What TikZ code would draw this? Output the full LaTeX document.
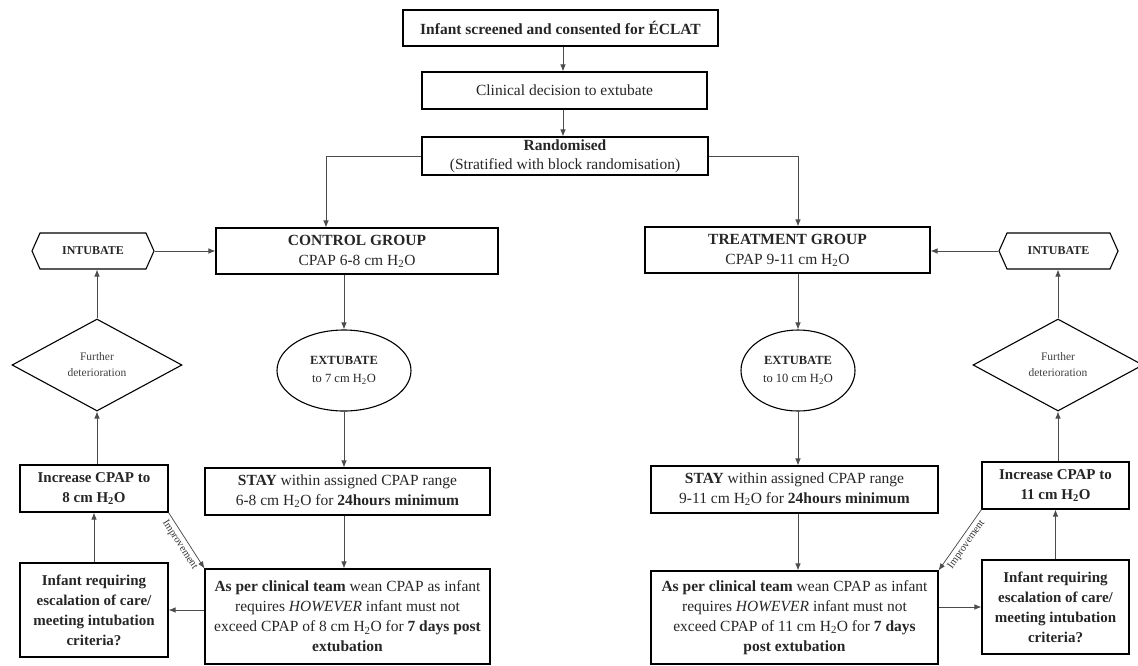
\documentclass[tikz,border=0pt]{standalone}
\usepackage{fontspec}
\setmainfont{Liberation Serif}
\usetikzlibrary{arrows.meta,shapes.geometric,shapes.symbols,calc}
\newcommand{\HtwoO}{H\textsubscript{2}O}
\begin{document}
\begin{tikzpicture}[x=1pt,y=-1pt,
  box/.style={draw, line width=1.1pt, align=center, inner sep=1pt, font=\fontsize{15.5}{20}\selectfont, text=black!85},
  bbox/.style={box, font=\bfseries\fontsize{15}{20}\selectfont},
  arr/.style={draw=black!70, line width=0.75pt, -{Latex[length=7pt,width=5.5pt]}},
  hexa/.style={draw, line width=1.1pt, signal, signal to=west and east, signal pointer angle=132, inner sep=1pt, font=\bfseries\fontsize{12}{14}\selectfont, text=black!85},
  dia/.style={draw, line width=1.1pt, diamond, inner sep=0pt, align=center, font=\fontsize{11.5}{16}\selectfont, text=black!75},
  ell/.style={draw, line width=1.1pt, ellipse, inner sep=0pt, align=center, font=\fontsize{12.5}{18}\selectfont, text=black!85},
  lbl/.style={sloped, below, font=\fontsize{10.5}{11}\selectfont, inner sep=3pt, text=black!80}
]
\useasboundingbox (0,0) rectangle (1138,665);

\node[box, minimum width=315pt, minimum height=36pt, font=\bfseries\fontsize{15.5}{20}\selectfont] (top) at (560.5,28) {Infant screened and consented for ÉCLAT};
\node[box, minimum width=285pt, minimum height=37pt] (clin) at (564.5,90.5) {Clinical decision to extubate};
\node[box, minimum width=286pt, minimum height=38pt, font=\fontsize{15.5}{19}\selectfont] (rand) at (565,156) {\textbf{Randomised}\\(Stratified with block randomisation)};

\node[box, minimum width=282pt, minimum height=46pt] (ctrl) at (357,251) {\textbf{CONTROL GROUP}\\CPAP 6-8 cm \HtwoO};
\node[box, minimum width=285pt, minimum height=46pt] (treat) at (787.5,250) {\textbf{TREATMENT GROUP}\\CPAP 9-11 cm \HtwoO};

\node[hexa, minimum width=122pt, minimum height=36pt] (intL) at (93,251) {INTUBATE};
\node[hexa, minimum width=119pt, minimum height=36pt] (intR) at (1058.5,251) {INTUBATE};

\node[dia, minimum width=170pt, minimum height=92pt] (diaL) at (97,365) {Further\\deterioration};
\node[dia, minimum width=170pt, minimum height=92pt] (diaR) at (1058,365) {Further\\deterioration};

\node[ell, minimum width=134pt, minimum height=81pt] (ellL) at (344,370.5) {\textbf{EXTUBATE}\\to 7 cm \HtwoO};
\node[ell, minimum width=114pt, minimum height=81pt] (ellR) at (798,370.5) {\textbf{EXTUBATE}\\to 10 cm \HtwoO};

\node[box, minimum width=285pt, minimum height=47pt] (stayL) at (347.5,491.5) {\textbf{STAY} within assigned CPAP range\\6-8 cm \HtwoO{} for \textbf{24hours minimum}};
\node[box, minimum width=287pt, minimum height=47pt] (stayR) at (794.5,489.5) {\textbf{STAY} within assigned CPAP range\\9-11 cm \HtwoO{} for \textbf{24hours minimum}};

\node[bbox, minimum width=148pt, minimum height=47pt] (incL) at (94,488.5) {Increase CPAP to\\8 cm \HtwoO};
\node[bbox, minimum width=147pt, minimum height=47pt] (incR) at (1055.5,485.5) {Increase CPAP to\\11 cm \HtwoO};

\node[bbox, minimum width=148pt, minimum height=94pt] (infL) at (94,610) {Infant requiring\\escalation of care/\\meeting intubation\\criteria?};
\node[bbox, minimum width=147pt, minimum height=94pt] (infR) at (1055.5,607) {Infant requiring\\escalation of care/\\meeting intubation\\criteria?};

\node[box, minimum width=285pt, minimum height=95pt] (asL) at (347.5,616.5) {\textbf{As per clinical team} wean CPAP as infant\\requires \textit{HOWEVER} infant must not\\exceed CPAP of 8 cm \HtwoO{} for \textbf{7 days post}\\\textbf{extubation}};
\node[box, minimum width=287pt, minimum height=93pt] (asR) at (794.5,617.5) {\textbf{As per clinical team} wean CPAP as infant\\requires \textit{HOWEVER} infant must not\\exceed CPAP of 11 cm \HtwoO{} for \textbf{7 days}\\\textbf{post extubation}};

% top chain
\draw[arr] (top.south -| 563,0) -- (clin.north -| 563,0);
\draw[arr] (clin.south -| 563,0) -- (rand.north -| 563,0);
\draw[arr] (rand.west) -| (ctrl.north -| 326,0);
\draw[arr] (rand.east) -| (treat.north -| 798,0);

% control column
\draw[arr] (ctrl.south -| ellL.north) -- (ellL.north);
\draw[arr] (ellL.south) -- (stayL.north -| ellL.south);
\draw[arr] (stayL.south -| ellL.south) -- (asL.north -| ellL.south);

% treatment column
\draw[arr] (treat.south -| ellR.north) -- (ellR.north);
\draw[arr] (ellR.south) -- (stayR.north -| ellR.south);
\draw[arr] (stayR.south -| ellR.south) -- (asR.north -| ellR.south);

% left loop
\draw[arr] (asL.west |- infL.east) -- (infL.east);
\draw[arr] (infL.north) -- (incL.south);
\draw[arr] (incL.north -| diaL.south) -- (diaL.south);
\draw[arr] (diaL.north) -- (intL.south -| diaL.north);
\draw[arr] (intL.east) -- (ctrl.west |- intL.east);
\draw[arr] (incL.south east) -- node[lbl] {Improvement} (asL.north west);

% right loop
\draw[arr] (asR.east |- infR.west) -- (infR.west);
\draw[arr] (infR.north) -- (incR.south);
\draw[arr] (incR.north -| diaR.south) -- (diaR.south);
\draw[arr] (diaR.north) -- (intR.south -| diaR.north);
\draw[arr] (intR.west) -- (treat.east |- intR.west);
\draw[arr] (incR.south west) -- node[lbl] {Improvement} (asR.north east);
\end{tikzpicture}
\end{document}
